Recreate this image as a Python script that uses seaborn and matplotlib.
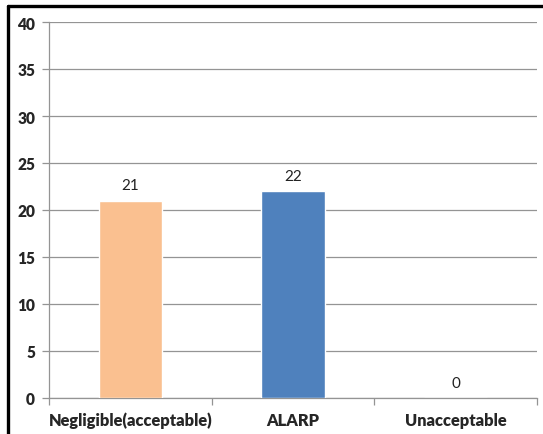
import matplotlib
matplotlib.use("Agg")
import matplotlib.pyplot as plt
from matplotlib.lines import Line2D
import seaborn as sns
import pandas as pd

categories = ["Negligible(acceptable)", "ALARP", "Unacceptable"]
counts = [21, 22, 0]
bar_colors = ["#FAC090", "#4F81BD", "#9BBB59"]
y_ticks = [0, 5, 10, 15, 20, 25, 30, 35, 40]

sns.set_theme(style="white")
plt.rcParams["font.family"] = ["Lato", "DejaVu Sans"]

df = pd.DataFrame({"category": categories, "count": counts})

fig = plt.figure(figsize=(5.43, 4.35), dpi=100)
ax = fig.add_axes([49 / 543, 1 - 399 / 435, 488 / 543, 376 / 435])

sns.barplot(data=df, x="category", y="count", hue="category",
            palette=bar_colors, width=0.39, legend=False, ax=ax,
            saturation=1, zorder=3)

ax.set_ylim(0, 40)
ax.set_xlim(-0.5, 2.5)
ax.set_yticks(y_ticks)
ax.set_yticklabels([str(t) for t in y_ticks], fontweight="heavy", fontsize=11.2)
ax.yaxis.grid(True, color="#949494", linewidth=0.9, zorder=0)
ax.set_axisbelow(True)

# category separators on the x axis
ax.set_xticks([-0.5, 0.5, 1.5, 2.5], minor=True)
ax.set_xticks([0, 1, 2])
ax.set_xticklabels(categories, fontweight="heavy", fontsize=11.8)
ax.tick_params(axis="x", which="major", length=0, pad=10)
ax.tick_params(axis="x", which="minor", length=5, color="#949494", width=0.9,
               direction="out", bottom=True)
ax.tick_params(axis="y", length=5, color="#949494", width=0.9,
               direction="out", left=True, pad=5)

for side in ["top", "right"]:
    ax.spines[side].set_visible(False)
for side in ["left", "bottom"]:
    ax.spines[side].set_color("#949494")
    ax.spines[side].set_linewidth(0.9)

ax.set_xlabel("")
ax.set_ylabel("")

for i, v in enumerate(counts):
    ax.annotate(str(v), (i, v), xytext=(0, 6), textcoords="offset points",
                ha="center", va="bottom", fontsize=11, color="#222222")

# outer frame on the left and top edges
fig.add_artist(Line2D([8 / 543, 8 / 543], [0, 1 - 7 / 435], color="black",
                      linewidth=2.4, transform=fig.transFigure))
fig.add_artist(Line2D([8 / 543, 1], [1 - 7 / 435, 1 - 7 / 435], color="black",
                      linewidth=2.4, transform=fig.transFigure))

fig.savefig("out.png", dpi=100)
